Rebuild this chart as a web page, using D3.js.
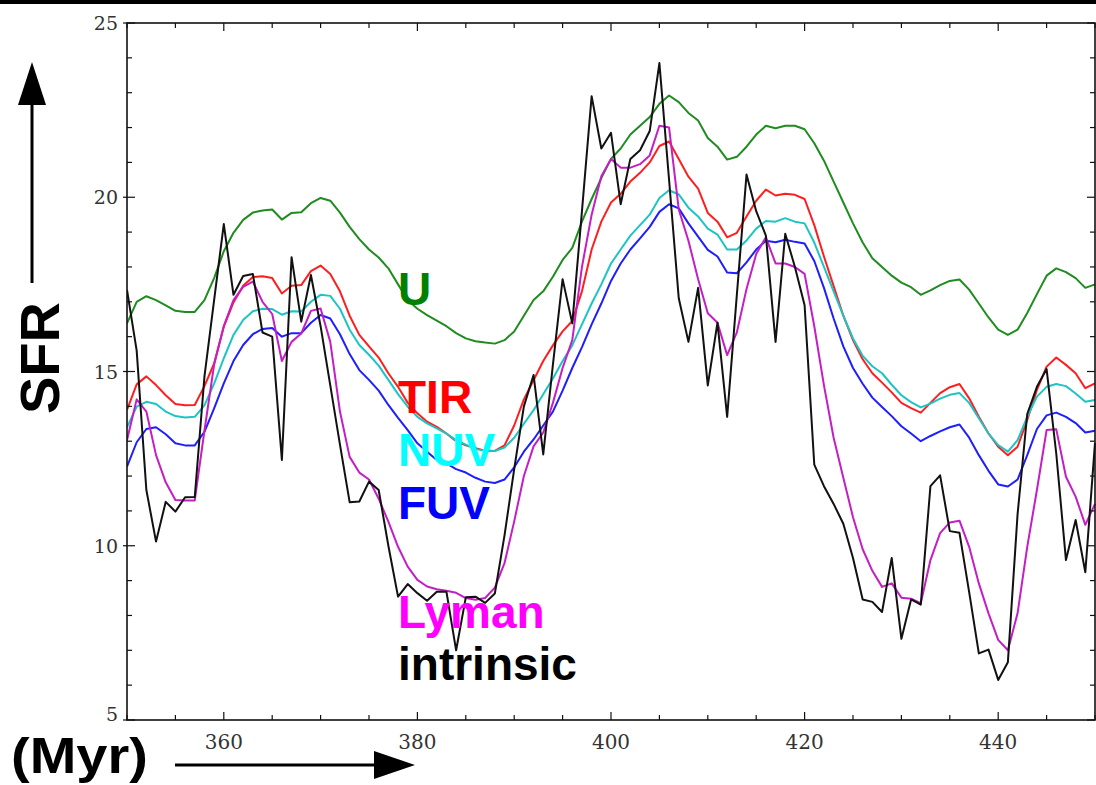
<!DOCTYPE html>
<html>
<head>
<meta charset="utf-8">
<script src="https://cdn.jsdelivr.net/npm/d3@7/dist/d3.min.js"></script>
<style>
  html, body { margin: 0; padding: 0; background: #fff; }
  svg { display: block; }
</style>
</head>
<body>
<svg id="chart" width="1096" height="785"></svg>
<script>
// Time axis (Myr), one sample per Myr
const times = [
  350,351,352,353,354,355,356,357,358,359,360,361,362,363,364,365,366,367,368,369,
  370,371,372,373,374,375,376,377,378,379,380,381,382,383,384,385,386,387,388,389,
  390,391,392,393,394,395,396,397,398,399,400,401,402,403,404,405,406,407,408,409,
  410,411,412,413,414,415,416,417,418,419,420,421,422,423,424,425,426,427,428,429,
  430,431,432,433,434,435,436,437,438,439,440,441,442,443,444,445,446,447,448,449,450
];

// Star formation rate traced by each indicator
const sfrU = [
  16.38,17.0,17.16,17.05,16.9,16.74,16.71,16.71,17.05,17.68,18.45,18.98,19.35,19.56,19.62,19.65,19.36,19.55,19.57,19.83,
  19.98,19.9,19.56,19.15,18.8,18.5,18.27,17.96,17.5,17.05,16.8,16.62,16.46,16.3,16.1,15.95,15.87,15.83,15.8,15.9,
  16.15,16.6,17.05,17.3,17.72,18.2,18.55,19.3,19.95,20.55,21.1,21.4,21.8,22.05,22.3,22.68,22.92,22.73,22.42,22.2,
  21.7,21.45,21.08,21.16,21.45,21.8,22.05,21.98,22.05,22.05,21.95,21.55,21.05,20.45,19.85,19.25,18.7,18.25,18.0,17.75,
  17.55,17.42,17.2,17.33,17.48,17.6,17.64,17.35,16.95,16.55,16.2,16.05,16.2,16.68,17.22,17.75,17.96,17.85,17.68,17.4,17.5
];
const sfrTIR = [
  13.9,14.63,14.86,14.61,14.32,14.07,14.03,14.04,14.58,15.23,16.29,16.98,17.46,17.71,17.73,17.68,17.24,17.46,17.48,17.88,
  18.04,17.8,17.3,16.6,16.05,15.72,15.4,14.95,14.56,14.1,13.8,13.56,13.41,13.22,13.0,12.88,12.8,12.73,12.72,12.88,
  13.45,14.2,14.75,15.3,15.75,16.15,16.45,17.3,18.5,19.3,19.85,20.1,20.45,20.7,21.0,21.47,21.6,21.1,20.59,20.25,
  19.55,19.3,18.85,18.98,19.45,19.9,20.22,20.05,20.1,20.07,19.95,19.2,18.3,17.45,16.6,15.9,15.35,14.95,14.68,14.4,
  14.1,13.95,13.82,14.1,14.38,14.55,14.64,14.23,13.7,13.22,12.84,12.6,12.84,13.61,14.47,15.14,15.4,15.19,14.95,14.52,14.66
];
const sfrNUV = [
  13.4,13.99,14.13,14.07,13.85,13.72,13.68,13.7,14.03,14.65,15.38,16.05,16.48,16.73,16.8,16.79,16.63,16.73,16.72,17.0,
  17.2,17.17,16.8,16.2,15.76,15.48,15.17,14.76,14.35,13.99,13.7,13.51,13.37,13.22,13.03,12.9,12.78,12.72,12.72,12.82,
  13.1,13.5,13.89,14.35,14.8,15.3,15.75,16.35,16.95,17.5,18.1,18.5,18.9,19.2,19.5,19.98,20.2,20.08,19.7,19.45,
  19.1,18.93,18.5,18.5,18.76,19.1,19.32,19.3,19.4,19.3,19.25,18.7,18.0,17.3,16.6,15.95,15.45,15.15,14.95,14.62,
  14.32,14.12,13.97,14.08,14.22,14.33,14.38,14.1,13.66,13.22,12.89,12.7,13.03,13.7,14.28,14.56,14.64,14.58,14.37,14.13,14.18
];
const sfrFUV = [
  12.27,12.97,13.35,13.4,13.2,12.94,12.88,12.88,13.27,13.94,14.66,15.3,15.76,16.07,16.22,16.25,16.0,16.1,16.1,16.4,
  16.62,16.52,16.07,15.5,15.04,14.76,14.45,14.04,13.67,13.32,12.94,12.7,12.46,12.36,12.2,12.1,11.95,11.84,11.8,11.9,
  12.25,12.7,13.05,13.45,13.85,14.45,15.1,15.7,16.35,16.95,17.6,18.1,18.5,18.82,19.15,19.58,19.8,19.68,19.25,18.87,
  18.49,18.3,17.84,17.82,18.13,18.5,18.75,18.71,18.78,18.72,18.67,18.17,17.4,16.52,15.72,15.1,14.65,14.25,13.98,13.72,
  13.43,13.22,13.0,13.15,13.28,13.4,13.48,13.1,12.6,12.15,11.76,11.7,11.9,12.6,13.35,13.74,13.82,13.7,13.52,13.25,13.3
];
const sfrLyman = [
  13.03,14.2,13.85,12.6,11.82,11.31,11.3,11.3,13.3,15.2,16.3,17.05,17.43,17.58,17.0,16.65,15.3,15.85,16.09,16.74,
  16.81,15.85,13.85,12.55,12.1,11.9,11.35,10.69,9.97,9.4,9.02,8.83,8.75,8.71,8.65,8.5,8.45,8.5,8.8,9.5,
  10.7,12.0,12.85,13.25,14.1,15.1,15.9,18.0,19.5,20.6,21.1,20.85,20.85,20.95,21.2,22.05,22.0,19.65,18.75,17.65,
  16.67,16.4,15.47,16.12,17.37,18.37,18.85,18.1,18.1,18.0,17.8,16.3,14.6,13.1,11.95,10.82,9.9,9.28,8.82,8.92,
  8.51,8.48,8.35,9.59,10.36,10.67,10.72,9.97,8.92,8.06,7.3,7.0,8.06,9.97,11.6,13.32,13.34,11.98,11.41,10.6,11.2
];
const sfrIntrinsic = [
  17.34,15.6,11.6,10.12,11.26,10.98,11.39,11.4,14.85,17.05,19.23,17.2,17.74,17.8,16.12,16.0,12.46,18.28,16.43,17.77,
  16.3,14.6,12.9,11.25,11.27,11.84,11.6,10.0,8.54,8.9,8.64,8.42,8.68,8.68,7.0,8.52,8.54,8.36,8.63,10.3,
  12.2,14.0,14.9,12.62,15.2,17.65,16.38,19.6,22.9,21.4,21.85,19.8,21.1,21.35,21.9,23.85,20.5,17.1,15.85,17.4,
  14.6,16.4,13.7,17.2,20.65,19.6,18.9,15.85,18.95,18.0,16.9,12.33,11.71,11.2,10.63,9.65,8.46,8.39,8.1,9.65,
  7.33,8.46,8.31,11.71,12.02,10.42,10.37,8.67,6.91,7.02,6.15,6.66,10.9,13.78,14.56,15.07,12.64,9.59,10.74,9.24,12.95
];

const xTicks = [360, 380, 400, 420, 440];
const yTicks = [5, 10, 15, 20, 25];

// Series, in drawing order, with their line and label colours
const series = [
  { name: "U",         values: sfrU,         line: "#1e8c1e", label: "#008000" },
  { name: "TIR",       values: sfrTIR,       line: "#ff1e1e", label: "#ff0000" },
  { name: "NUV",       values: sfrNUV,       line: "#1ec4c4", label: "#00ffff" },
  { name: "FUV",       values: sfrFUV,       line: "#1e1eff", label: "#0000ff" },
  { name: "Lyman",     values: sfrLyman,     line: "#c41ec4", label: "#ff00ff" },
  { name: "intrinsic", values: sfrIntrinsic, line: "#111111", label: "#000000" }
];

const svg = d3.select("#chart");
const W = 1096, H = 785;
const plot = { left: 127, right: 1095, top: 23, bottom: 720 };

// label column stacked under the U curve
const labelLayout = { x: 398, baselines: { U: 305, TIR: 413, NUV: 466, FUV: 519, Lyman: 628, intrinsic: 680 } };

const x = d3.scaleLinear().domain([350, 450]).range([plot.left, plot.right]);
const y = d3.scaleLinear().domain([5, 25]).range([plot.bottom, plot.top]);

// thick rule along the top edge
svg.append("rect").attr("x", 0).attr("y", 0).attr("width", W).attr("height", 4).attr("fill", "#000");

svg.append("defs").append("clipPath").attr("id", "plotclip")
  .append("rect")
  .attr("x", plot.left).attr("y", plot.top)
  .attr("width", plot.right - plot.left + 2).attr("height", plot.bottom - plot.top);

// curves
const line = d3.line()
  .x((d, i) => x(times[i]))
  .y(d => y(d));

const curves = svg.append("g").attr("clip-path", "url(#plotclip)");
series.forEach(s => {
  curves.append("path")
    .datum(s.values)
    .attr("d", line)
    .attr("fill", "none")
    .attr("stroke", s.line)
    .attr("stroke-width", 2)
    .attr("stroke-linejoin", "round");
});

// axes: box with inward ticks
const minorX = d3.range(350, 451, 5);
const minorY = d3.range(5, 26, 1);
const axisColor = "#111";
const frame = svg.append("g");

frame.append("rect")
  .attr("x", plot.left).attr("y", plot.top)
  .attr("width", plot.right - plot.left).attr("height", plot.bottom - plot.top)
  .attr("fill", "none").attr("stroke", axisColor).attr("stroke-width", 1.6);

// bottom and top ticks
minorX.forEach(t => {
  const major = xTicks.includes(t);
  const len = major ? 8 : 5;
  frame.append("line")
    .attr("x1", x(t)).attr("x2", x(t))
    .attr("y1", plot.bottom).attr("y2", plot.bottom - len)
    .attr("stroke", axisColor).attr("stroke-width", 1.2);
  frame.append("line")
    .attr("x1", x(t)).attr("x2", x(t))
    .attr("y1", plot.top).attr("y2", plot.top + len)
    .attr("stroke", axisColor).attr("stroke-width", 1.2);
});
// left and right ticks
minorY.forEach(v => {
  const major = yTicks.includes(v);
  const len = major ? 8 : 5;
  frame.append("line")
    .attr("x1", plot.left - (major ? 4 : 0)).attr("x2", plot.left + len)
    .attr("y1", y(v)).attr("y2", y(v))
    .attr("stroke", axisColor).attr("stroke-width", 1.2);
  frame.append("line")
    .attr("x1", plot.right).attr("x2", plot.right - len)
    .attr("y1", y(v)).attr("y2", y(v))
    .attr("stroke", axisColor).attr("stroke-width", 1.2);
});

// tick labels
const tickFont = "'DejaVu Serif', serif";
svg.append("g").selectAll("text").data(yTicks).join("text")
  .attr("x", plot.left - 9)
  .attr("y", d => y(d) + (d === 5 ? 1 : 7))
  .attr("text-anchor", "end")
  .attr("font-family", tickFont)
  .attr("font-size", 19)
  .attr("fill", "#333")
  .text(d => d);

svg.append("g").selectAll("text").data(xTicks).join("text")
  .attr("x", d => x(d))
  .attr("y", plot.bottom + 29)
  .attr("text-anchor", "middle")
  .attr("font-family", tickFont)
  .attr("font-size", 20)
  .attr("fill", "#333")
  .text(d => d);

// series labels
const labelFont = "'Liberation Sans', Arial, sans-serif";
svg.append("g").selectAll("text").data(series).join("text")
  .attr("x", labelLayout.x)
  .attr("y", d => labelLayout.baselines[d.name])
  .attr("font-family", labelFont)
  .attr("font-weight", "bold")
  .attr("font-size", 46)
  .attr("fill", d => d.label)
  .text(d => d.name);

// axis titles with arrows
svg.append("text")
  .attr("transform", "translate(59,358) rotate(-90)")
  .attr("text-anchor", "middle")
  .attr("font-family", labelFont)
  .attr("font-weight", "bold")
  .attr("font-size", 56)
  .attr("fill", "#000")
  .text("SFR");

svg.append("line")
  .attr("x1", 32).attr("x2", 32).attr("y1", 283).attr("y2", 100)
  .attr("stroke", "#000").attr("stroke-width", 3);
svg.append("path")
  .attr("d", d3.line()([[32, 62], [46, 105], [18, 105]]) + "Z")
  .attr("fill", "#000");

svg.append("text")
  .attr("transform", "translate(11,773) scale(1.12,1)")
  .attr("font-family", labelFont)
  .attr("font-weight", "bold")
  .attr("font-size", 50)
  .attr("fill", "#000")
  .text("(Myr)");

svg.append("line")
  .attr("x1", 175).attr("x2", 380).attr("y1", 765).attr("y2", 765)
  .attr("stroke", "#000").attr("stroke-width", 3);
svg.append("path")
  .attr("d", d3.line()([[415, 765], [374, 751], [374, 779]]) + "Z")
  .attr("fill", "#000");
</script>
</body>
</html>
